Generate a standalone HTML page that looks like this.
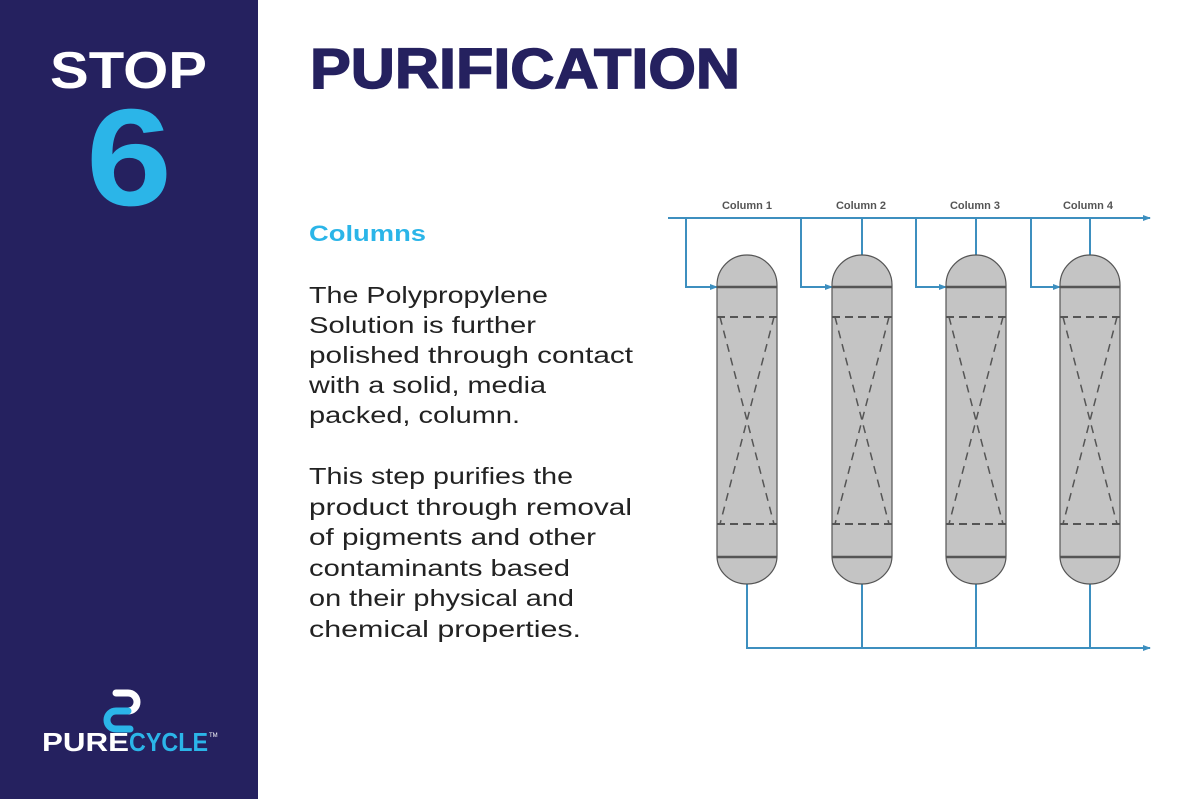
<!DOCTYPE html>
<html><head><meta charset="utf-8"><style>
html,body{margin:0;padding:0;background:#fff}
svg{display:block}
</style></head><body>
<svg width="1200" height="799" viewBox="0 0 1200 799" xmlns="http://www.w3.org/2000/svg" font-family="Liberation Sans, sans-serif">
<defs>
<marker id="ar" markerWidth="8" markerHeight="8" refX="7" refY="4" orient="auto" markerUnits="userSpaceOnUse">
<path d="M0,1 L8,4 L0,7 Z" fill="#3d8fbf"/></marker>
</defs>
<rect x="0" y="0" width="258" height="799" fill="#25215f"/>
<text x="50" y="88" font-size="52" font-weight="bold" fill="#fff" textLength="157" lengthAdjust="spacingAndGlyphs">STOP</text>
<text x="86" y="205" font-size="138" font-weight="bold" fill="#2bb5e8" textLength="86" lengthAdjust="spacingAndGlyphs">6</text>
<g fill="none" stroke-width="7" stroke-linecap="round">
<path d="M116,693 H128 A9,9 0 0 1 128,711" stroke="#fff"/>
<path d="M128,711 H116 A9,9 0 0 0 116,729 H130" stroke="#2bb5e8"/>
</g>
<text x="42" y="751" font-size="26" font-weight="bold" fill="#fff" textLength="87" lengthAdjust="spacingAndGlyphs">PURE</text>
<text x="129" y="751" font-size="26" font-weight="bold" fill="#2bb5e8" textLength="79" lengthAdjust="spacingAndGlyphs">CYCLE</text>
<text x="209" y="737" font-size="6" fill="#fff">TM</text>

<text x="310" y="88" font-size="57" font-weight="bold" fill="#25215f" stroke="#25215f" stroke-width="1.5" textLength="430" lengthAdjust="spacingAndGlyphs">PURIFICATION</text>
<text x="309" y="241" font-size="22" font-weight="bold" fill="#2bb5e8" textLength="117" lengthAdjust="spacingAndGlyphs">Columns</text>
<g font-size="23" fill="#222" lengthAdjust="spacingAndGlyphs">
<text x="309" y="303" textLength="239" lengthAdjust="spacingAndGlyphs">The Polypropylene</text>
<text x="309" y="333" textLength="227" lengthAdjust="spacingAndGlyphs">Solution is further</text>
<text x="309" y="363" textLength="324" lengthAdjust="spacingAndGlyphs">polished through contact</text>
<text x="309" y="393" textLength="237" lengthAdjust="spacingAndGlyphs">with a solid, media</text>
<text x="309" y="423" textLength="211" lengthAdjust="spacingAndGlyphs">packed, column.</text>
<text x="309" y="484" textLength="264" lengthAdjust="spacingAndGlyphs">This step purifies the</text>
<text x="309" y="515" textLength="323" lengthAdjust="spacingAndGlyphs">product through removal</text>
<text x="309" y="545" textLength="287" lengthAdjust="spacingAndGlyphs">of pigments and other</text>
<text x="309" y="576" textLength="261" lengthAdjust="spacingAndGlyphs">contaminants based</text>
<text x="309" y="606" textLength="265" lengthAdjust="spacingAndGlyphs">on their physical and</text>
<text x="309" y="637" textLength="272" lengthAdjust="spacingAndGlyphs">chemical properties.</text>
</g>

<g font-size="11" font-weight="bold" fill="#555">
<text x="747" y="209" text-anchor="middle">Column 1</text>
<text x="861" y="209" text-anchor="middle">Column 2</text>
<text x="975" y="209" text-anchor="middle">Column 3</text>
<text x="1088" y="209" text-anchor="middle">Column 4</text>
</g>
<g stroke="#3d8fbf" stroke-width="2" fill="none">
<line x1="668" y1="218" x2="1150" y2="218" marker-end="url(#ar)"/>
<polyline points="686,218 686,287 717,287" marker-end="url(#ar)"/>
<polyline points="801,218 801,287 832,287" marker-end="url(#ar)"/>
<polyline points="916,218 916,287 946,287" marker-end="url(#ar)"/>
<polyline points="1031,218 1031,287 1060,287" marker-end="url(#ar)"/>
<line x1="862" y1="218" x2="862" y2="256"/>
<line x1="976" y1="218" x2="976" y2="256"/>
<line x1="1090" y1="218" x2="1090" y2="256"/>
<line x1="747" y1="583" x2="747" y2="648"/>
<line x1="862" y1="583" x2="862" y2="648"/>
<line x1="976" y1="583" x2="976" y2="648"/>
<line x1="1090" y1="583" x2="1090" y2="648"/>
<line x1="746" y1="648" x2="1150" y2="648" marker-end="url(#ar)"/>
</g>
<g id="cols" stroke="#555" fill="#c4c4c4">
<g transform="translate(747,0)">
<path d="M-30,285 A30,30 0 0 1 30,285 V556 A30,28 0 0 1 -30,556 Z" stroke-width="1.2"/>
<line x1="-30" y1="287" x2="30" y2="287" stroke-width="2.5"/>
<line x1="-30" y1="557" x2="30" y2="557" stroke-width="2.5"/>
<line x1="-30" y1="317" x2="30" y2="317" stroke-width="2" stroke-dasharray="8,5"/>
<line x1="-30" y1="524" x2="30" y2="524" stroke-width="2" stroke-dasharray="8,5"/>
<line x1="-27" y1="317" x2="27" y2="524" stroke-width="1.5" stroke-dasharray="8,6"/>
<line x1="27" y1="317" x2="-27" y2="524" stroke-width="1.5" stroke-dasharray="8,6"/>
</g>
</g>
<use href="#cols" x="115"/>
<use href="#cols" x="229"/>
<use href="#cols" x="343"/>
</svg>
</body></html>
